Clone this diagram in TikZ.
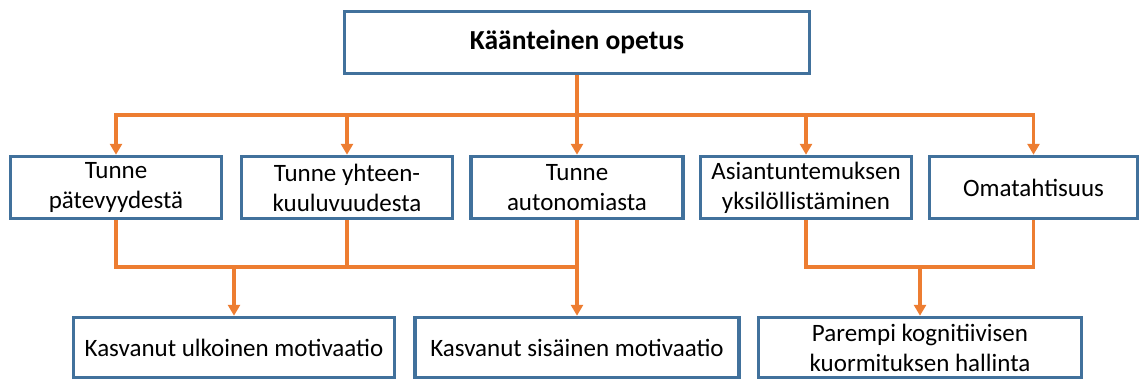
\documentclass[tikz,border=0pt]{standalone}
\usepackage{fontspec}
\setmainfont{Carlito}
\usetikzlibrary{arrows.meta}
\definecolor{boxblue}{HTML}{41719C}
\definecolor{linkorange}{HTML}{ED7D31}
\begin{document}
\begin{tikzpicture}[x=1pt,y=-1pt,
  box/.style={draw=boxblue,line width=3.5pt,fill=white,rectangle,align=center,
    inner sep=0pt,font=\fontsize{25}{30}\selectfont},
  link/.style={draw=linkorange,line width=3.5pt},
  arr/.style={link,-{Triangle[width=12pt,length=11pt]}}]
\useasboundingbox (0,0) rectangle (1140,381);

% top concept
\node[box,minimum width=465pt,minimum height=62pt,font=\fontsize{27.5}{30}\selectfont\bfseries] (top) at (577,42.5) {Käänteinen opetus};

% middle row
\node[box,minimum width=211pt,minimum height=62pt] (m1) at (116,187.5) {Tunne\\pätevyydestä};
\node[box,minimum width=211pt,minimum height=62pt] (m2) at (347,187.5) {Tunne yhteen-\\kuuluvuudesta};
\node[box,minimum width=212pt,minimum height=62pt] (m3) at (577,187.5) {Tunne\\autonomiasta};
\node[box,minimum width=211pt,minimum height=62pt] (m4) at (806,187.5) {Asiantuntemuksen\\yksilöllistäminen};
\node[box,minimum width=208pt,minimum height=62pt] (m5) at (1033.5,187.5) {Omatahtisuus};

% bottom row
\node[box,minimum width=321pt,minimum height=60pt] (b1) at (234,347.5) {Kasvanut ulkoinen motivaatio};
\node[box,minimum width=324pt,minimum height=60pt] (b2) at (577,347.5) {Kasvanut sisäinen motivaatio};
\node[box,minimum width=323pt,minimum height=60pt] (b3) at (920,347.5) {Parempi kognitiivisen\\kuormituksen hallinta};

% junctions of the connector buses
\coordinate (bt) at (577,115);
\coordinate (bl) at (577,267);
\coordinate (br) at (920,267);

% top bus
\draw[link] (top.south) -- (bt);
\draw[arr] (bt) -| (m1.north);
\draw[arr] (bt) -| (m2.north);
\draw[arr] (bt) -- (m3.north);
\draw[arr] (bt) -| (m4.north);
\draw[arr] (bt) -| (m5.north);

% lower left bus
\draw[link] (m1.south) |- (bl);
\draw[link] (m2.south) -- (m2.south |- bl);
\draw[arr] (m3.south) -- (b2.north);
\draw[arr] (bl -| b1.north) -- (b1.north);

% lower right bus
\draw[link] (m4.south) |- (br) -| (m5.south);
\draw[arr] (br) -- (b3.north);
\end{tikzpicture}
\end{document}
